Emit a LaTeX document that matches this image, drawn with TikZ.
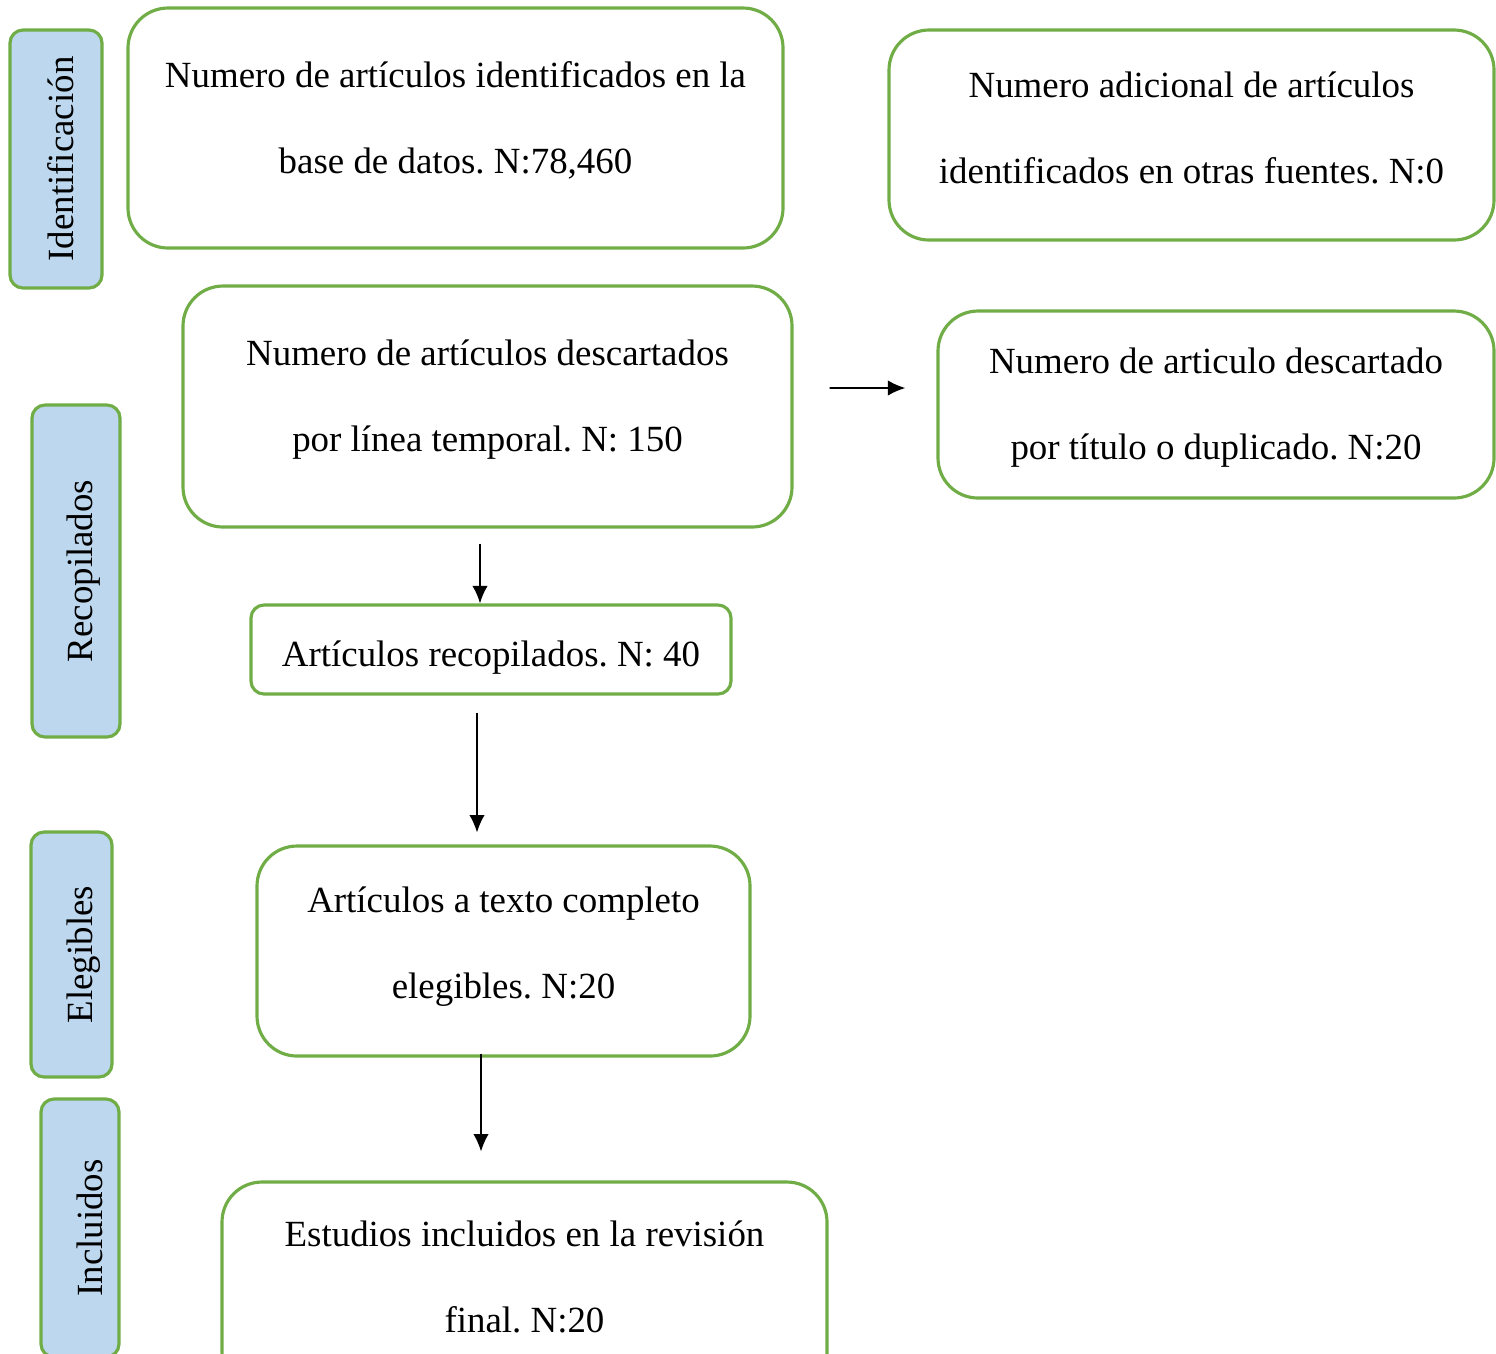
\documentclass[tikz,border=0pt]{standalone}
\usepackage{fontspec}
\setmainfont{Liberation Serif}
\usetikzlibrary{arrows.meta}
\frenchspacing
\definecolor{boxgreen}{HTML}{70AD47}
\definecolor{stageblue}{HTML}{BDD7EE}
\tikzset{
	flowbox/.style={draw=boxgreen,line width=0.9pt,rounded corners=0.4cm,align=center,inner sep=0pt,
		font=\fontsize{10.5pt}{24.2pt}\selectfont},
	stage/.style={draw=boxgreen,fill=stageblue,line width=0.9pt,rounded corners=0.13cm,rotate=90,inner sep=0pt,
		font=\fontsize{10.5pt}{12pt}\selectfont,text depth=0pt},
	drop/.style={text height=#1,text depth=0pt},
	arr/.style={line width=0.55pt,-{Latex[length=5pt,width=4.4pt]}}
}
\begin{document}
\begin{tikzpicture}
	\useasboundingbox (0,0) rectangle (14.96,-13.53);
	\node [stage,text height=0.34cm,minimum width=2.58cm,minimum height=0.92cm] (ident) at (0.56,-1.59) {Identificación};
	\node [stage,text height=0.34cm,minimum width=3.32cm,minimum height=0.88cm] (recop) at (0.76,-5.71) {Recopilados};
	\node [stage,text height=0.42cm,minimum width=2.45cm,minimum height=0.81cm] (eleg) at (0.715,-9.545) {Elegibles};
	\node [stage,text height=0.44cm,minimum width=2.58cm,minimum height=0.78cm] (incl) at (0.80,-12.28) {Incluidos};
	\node [flowbox,drop=0.90cm,minimum width=6.55cm,minimum height=2.40cm] (bd) at (4.555,-1.28) {Numero de artículos identificados en la\\base de datos. N:78,460};
	\node [flowbox,drop=0.96cm,minimum width=6.05cm,minimum height=2.10cm] (otras) at (11.915,-1.35) {Numero adicional de artículos\\identificados en otras fuentes. N:0};
	\node [flowbox,drop=0.89cm,minimum width=6.09cm,minimum height=2.41cm] (linea) at (4.875,-4.065) {Numero de artículos descartados\\por línea temporal. N: 150};
	\node [flowbox,drop=1.09cm,minimum width=5.56cm,minimum height=1.87cm] (titulo) at (12.16,-4.045) {Numero de articulo descartado\\por título o duplicado. N:20};
	\node [flowbox,rounded corners=0.13cm,drop=0.33cm,minimum width=4.80cm,minimum height=0.89cm] (recopilados) at (4.91,-6.495) {Artículos recopilados. N: 40};
	\node [flowbox,drop=0.94cm,minimum width=4.93cm,minimum height=2.10cm] (completo) at (5.035,-9.51) {Artículos a texto completo\\elegibles. N:20};
	\node [flowbox,drop=0.90cm,minimum width=6.05cm,minimum height=2.10cm] (final) at (5.245,-12.87) {Estudios incluidos en la revisión\\final. N:20};
	\draw [arr] ([xshift=0.36cm,yshift=0.185cm]linea.east) -- ([xshift=-0.31cm,yshift=0.165cm]titulo.west);
	\draw [arr] ([xshift=-0.075cm,yshift=-0.15cm]linea.south) -- ([xshift=-0.075cm]linea.south |- recopilados.north);
	\draw [arr] ([xshift=-0.14cm,yshift=-0.17cm]recopilados.south) -- ([xshift=-0.14cm,yshift=-1.37cm]recopilados.south);
	\draw [arr] ([xshift=-0.225cm,yshift=0.04cm]completo.south) -- ([xshift=-0.225cm,yshift=-0.94cm]completo.south);
\end{tikzpicture}
\end{document}
